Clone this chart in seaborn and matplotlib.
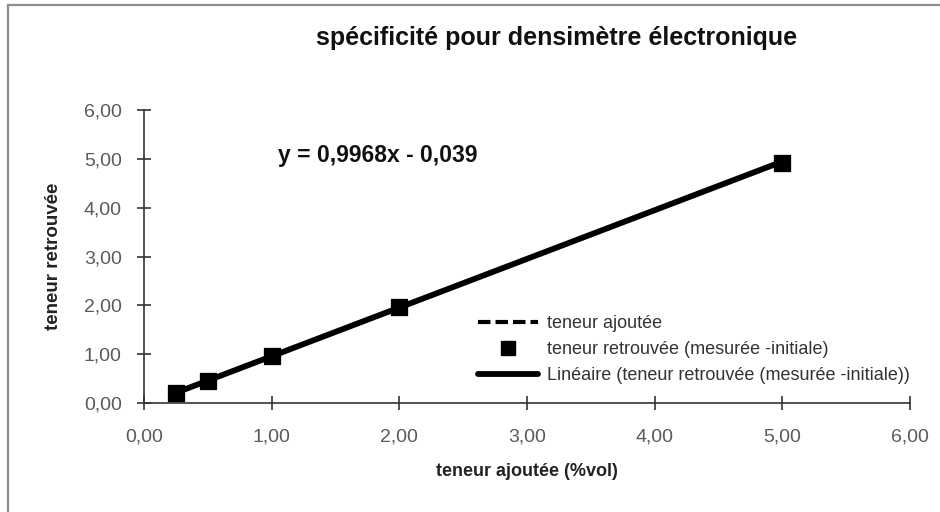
import numpy as np
import pandas as pd
import matplotlib
matplotlib.use("Agg")
import matplotlib.pyplot as plt
from matplotlib.lines import Line2D
from matplotlib.patches import Rectangle
import seaborn as sns

# Added content (%vol) and content found (measured - initial)
teneur_ajoutee = [0.25, 0.5, 1.0, 2.0, 5.0]
teneur_retrouvee = [0.21, 0.45, 0.96, 1.97, 4.92]

# Linear trendline coefficients
pente = 0.9968
ordonnee = -0.039

x_ticks = [0, 1, 2, 3, 4, 5, 6]
y_ticks = [0, 1, 2, 3, 4, 5, 6]

titre = "spécificité pour densimètre électronique"
label_x = "teneur ajoutée (%vol)"
label_y = "teneur retrouvée"
leg_ajoutee = "teneur ajoutée"
leg_retrouvee = "teneur retrouvée (mesurée -initiale)"
leg_lineaire = "Linéaire (teneur retrouvée (mesurée -initiale))"

sns.set_theme(style="white")
plt.rcParams["font.family"] = ["Liberation Sans", "DejaVu Sans"]

df = pd.DataFrame({"ajoutee": teneur_ajoutee, "retrouvee": teneur_retrouvee})
df["tendance"] = pente * df["ajoutee"] + ordonnee

fig = plt.figure(figsize=(9.4, 5.12), dpi=100)
ax = fig.add_axes([144 / 940, 1 - 403 / 512, 766 / 940, 293 / 512])

# outer chart-area frame (left and top edges visible)
fig.patches.append(Rectangle((8 / 940, -0.05), 1.2, 1 - 5 / 512 + 0.05,
                             transform=fig.transFigure, fill=False,
                             edgecolor="#8c8c8c", linewidth=1.6, zorder=0))

sns.lineplot(data=df, x="ajoutee", y="tendance", ax=ax, color="black",
             linewidth=4.2, zorder=3)
sns.scatterplot(data=df, x="ajoutee", y="retrouvee", ax=ax, marker="s",
                s=135, color="black", edgecolor="black", zorder=4)

ax.set_xlim(0, 6)
ax.set_ylim(0, 6)
ax.set_xticks(x_ticks)
ax.set_yticks(y_ticks)
ax.set_xticklabels([f"{v:.2f}".replace(".", ",") for v in x_ticks])
ax.set_yticklabels([f"{v:.2f}".replace(".", ",") for v in y_ticks])
ax.tick_params(axis="both", direction="inout", length=10, width=1.2,
               color="#333333", labelsize=14, labelcolor="#5a5a5a",
               bottom=True, left=True)
ax.tick_params(axis="x", pad=13)
ax.tick_params(axis="y", pad=11)
for side in ["top", "right"]:
    ax.spines[side].set_visible(False)
for side in ["left", "bottom"]:
    ax.spines[side].set_color("#333333")
    ax.spines[side].set_linewidth(1.2)

ax.set_xlabel(label_x, fontsize=13, fontweight="bold", color="#222222",
              labelpad=13)
ax.set_ylabel(label_y, fontsize=13.5, fontweight="bold", color="#222222",
              labelpad=16)

fig.text(557 / 940, 1 - 38 / 512, titre, ha="center", va="center",
         fontsize=18, fontweight="bold", color="#111111")

ax.text(1.05, 5.07, f"y = {pente:.4f}x - {abs(ordonnee):.3f}".replace(".", ","),
        ha="left", va="center", fontsize=16.5, fontweight="bold", color="#111111")

handles = [
    Line2D([], [], color="black", linestyle=(0, (3, 1.2)), linewidth=3.0),
    Line2D([], [], color="black", marker="s", markersize=10, linestyle="none"),
    Line2D([], [], color="black", linewidth=4.2),
]
leg = ax.legend(handles, [leg_ajoutee, leg_retrouvee, leg_lineaire],
                loc="upper left", bbox_to_anchor=(0.436, 0.30), frameon=False,
                fontsize=13, handlelength=3.3, handletextpad=0.5,
                labelspacing=0.5, borderpad=0, borderaxespad=0)
for t in leg.get_texts():
    t.set_color("#333333")

fig.savefig("out.png", dpi=100, facecolor="white")
